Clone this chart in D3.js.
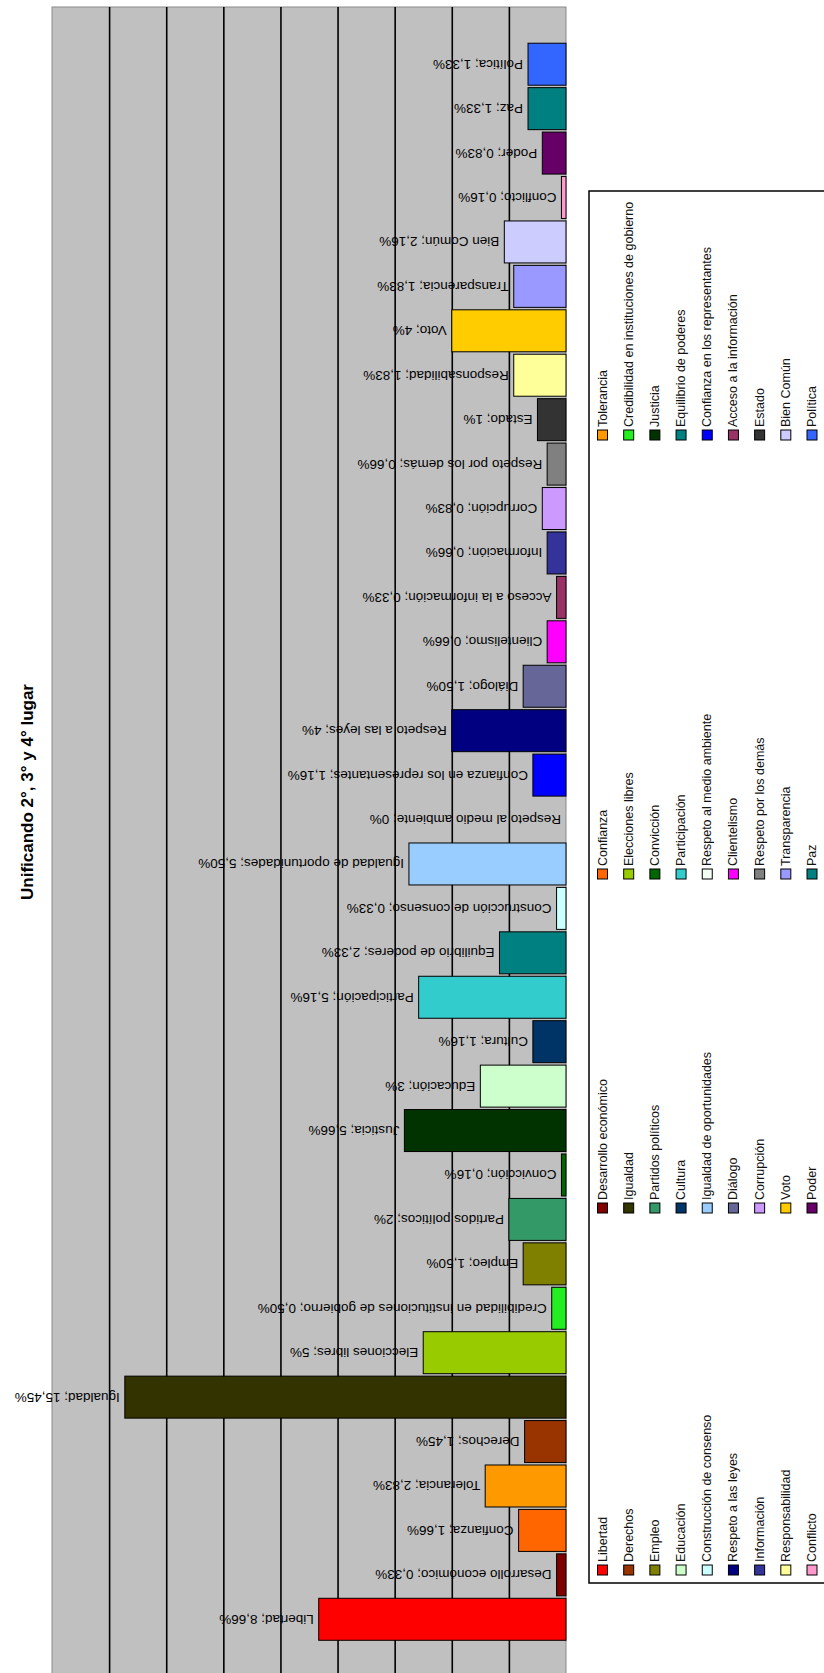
<!DOCTYPE html>
<html>
<head>
<meta charset="utf-8">
<script src="https://cdn.jsdelivr.net/npm/d3@7/dist/d3.min.js"></script>
<style>
  html, body { margin: 0; padding: 0; background: #fff; }
  svg { display: block; }
  text { font-family: Arial, "Liberation Sans", sans-serif; }
</style>
</head>
<body>
<svg id="chart" width="824" height="1673"></svg>
<script>
// ---- data ----
const categories = [
  "Libertad", "Desarrollo económico", "Confianza", "Tolerancia",
  "Derechos", "Igualdad", "Elecciones libres", "Credibilidad en instituciones de gobierno",
  "Empleo", "Partidos políticos", "Convicción", "Justicia",
  "Educación", "Cultura", "Participación", "Equilibrio de poderes",
  "Construcción de consenso", "Igualdad de oportunidades", "Respeto al medio ambiente", "Confianza en los representantes",
  "Respeto a las leyes", "Diálogo", "Clientelismo", "Acceso a la información",
  "Información", "Corrupción", "Respeto por los demás", "Estado",
  "Responsabilidad", "Voto", "Transparencia", "Bien Común",
  "Conflicto", "Poder", "Paz", "Política"
];
const values = [
  8.66, 0.33, 1.66, 2.83,
  1.45, 15.45, 5, 0.50,
  1.50, 2, 0.16, 5.66,
  3, 1.16, 5.16, 2.33,
  0.33, 5.50, 0, 1.16,
  4, 1.50, 0.66, 0.33,
  0.66, 0.83, 0.66, 1,
  1.83, 4, 1.83, 2.16,
  0.16, 0.83, 1.33, 1.33
];
const valueLabels = [
  "8,66%", "0,33%", "1,66%", "2,83%",
  "1,45%", "15,45%", "5%", "0,50%",
  "1,50%", "2%", "0,16%", "5,66%",
  "3%", "1,16%", "5,16%", "2,33%",
  "0,33%", "5,50%", "0%", "1,16%",
  "4%", "1,50%", "0,66%", "0,33%",
  "0,66%", "0,83%", "0,66%", "1%",
  "1,83%", "4%", "1,83%", "2,16%",
  "0,16%", "0,83%", "1,33%", "1,33%"
];
const colors = [
  "#FF0000", "#800000", "#FF6600", "#FF9900",
  "#993300", "#333300", "#99CC00", "#22EE22",
  "#808000", "#339966", "#006600", "#003300",
  "#CCFFCC", "#003366", "#33CCCC", "#008080",
  "#CCFFFF", "#99CCFF", "#F4FFF4", "#0000FF",
  "#000080", "#666699", "#FF00FF", "#993366",
  "#333399", "#CC99FF", "#808080", "#333333",
  "#FFFF99", "#FFCC00", "#9999FF", "#CCCCFF",
  "#FF99CC", "#660066", "#008080", "#3366FF"
];
const valueTicks = [0, 2, 4, 6, 8, 10, 12, 14, 16, 18];
const title = "Unificando 2°, 3° y 4° lugar";

// ---- layout ----
const svg = d3.select("#chart");
const plot = { left: 52, right: 566, top: 7, bottom: 1690 };

const x = d3.scaleLinear().domain([0, 18]).range([plot.right, plot.left]);
const y = d3.scaleBand().domain(categories).range([1641.5, 42]).paddingInner(0.055).paddingOuter(0.0275);

// plot background
svg.append("rect")
  .attr("x", plot.left).attr("y", plot.top)
  .attr("width", plot.right - plot.left).attr("height", plot.bottom - plot.top)
  .attr("fill", "#C0C0C0").attr("stroke", "#8a8a8a").attr("stroke-width", 1);

// gridlines via axis
const grid = d3.axisTop(x).tickValues(valueTicks.filter(v => v > 0 && v < 18))
  .tickSize(-(plot.bottom - plot.top)).tickFormat("");
svg.append("g").attr("transform", `translate(0,${plot.top})`).call(grid)
  .call(g => g.select(".domain").remove())
  .call(g => g.selectAll(".tick line").attr("stroke", "#000").attr("stroke-width", 1.6));

// bars
svg.append("g").selectAll("rect").data(categories).join("rect")
  .attr("x", (d, i) => x(values[i]))
  .attr("y", d => y(d))
  .attr("width", (d, i) => x(0) - x(values[i]))
  .attr("height", y.bandwidth())
  .attr("fill", (d, i) => colors[i])
  .attr("stroke", (d, i) => values[i] > 0 ? "#000" : "none")
  .attr("stroke-width", 1);

// data labels (upside down)
svg.append("g").selectAll("text").data(categories).join("text")
  .attr("transform", (d, i) => `translate(${x(values[i]) - 5},${y(d) + y.bandwidth() / 2}) rotate(180)`)
  .attr("text-anchor", "start")
  .attr("dominant-baseline", "central")
  .attr("font-size", 13.5)
  .attr("fill", "#000")
  .text((d, i) => `${d}; ${valueLabels[i]}`);

// title
svg.append("text")
  .attr("transform", "translate(27,792) rotate(-90)")
  .attr("text-anchor", "middle")
  .attr("dominant-baseline", "central")
  .attr("font-size", 17).attr("font-weight", "bold")
  .text(title);

// legend
const legend = svg.append("g");
legend.append("rect")
  .attr("x", 589).attr("y", 191).attr("width", 260).attr("height", 1583 - 191)
  .attr("fill", "#fff").attr("stroke", "#000").attr("stroke-width", 1.5);
const colY = [1570, 1208, 874, 435];
const rowX = d3.scaleLinear().domain([0, 8]).range([602.5, 812]);
const items = legend.selectAll("g.item").data(categories).join("g")
  .attr("class", "item")
  .attr("transform", (d, i) => `translate(${rowX(Math.floor(i / 4))},${colY[i % 4]})`);
items.append("rect")
  .attr("x", -5).attr("y", -5).attr("width", 10).attr("height", 10)
  .attr("fill", (d, i) => colors[i]).attr("stroke", "#000").attr("stroke-width", 1);
items.append("text")
  .attr("transform", "translate(0,-8) rotate(-90)")
  .attr("text-anchor", "start")
  .attr("dominant-baseline", "central")
  .attr("font-size", 12.5)
  .attr("fill", "#111")
  .text(d => d);
</script>
</body>
</html>
